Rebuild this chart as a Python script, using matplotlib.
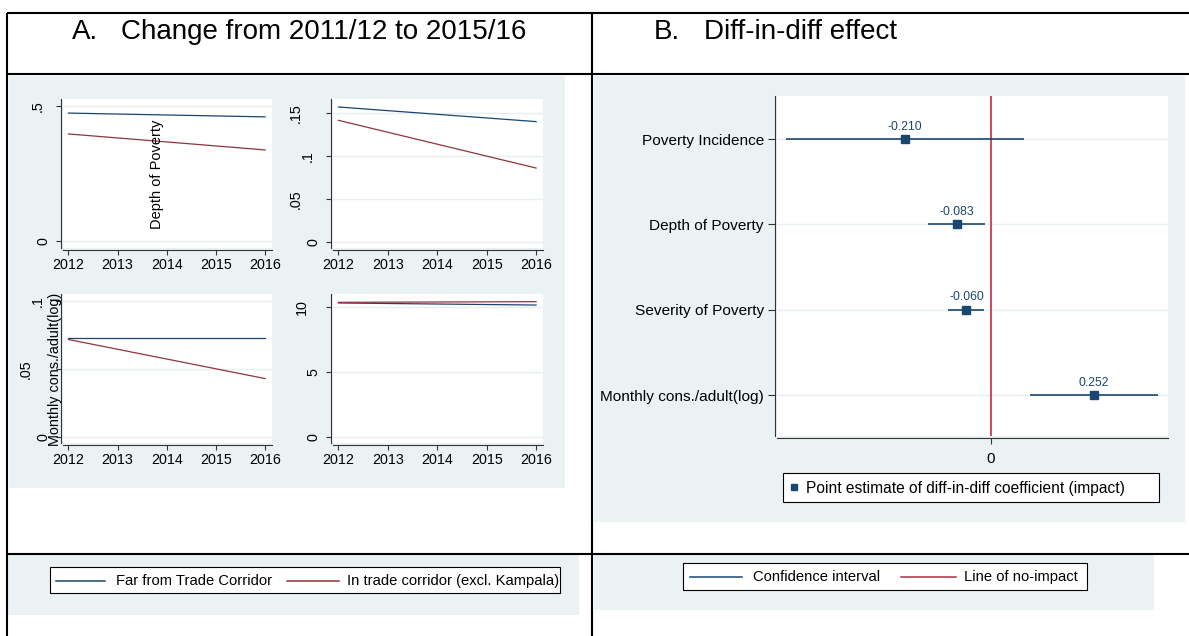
import matplotlib.pyplot as plt
from matplotlib.patches import Rectangle
from matplotlib.transforms import offset_copy

plt.rcParams['font.family'] = ['Liberation Sans', 'DejaVu Sans']

W, H = 1189, 636

# panel A: group means in 2012 and 2016
years = [2012, 2016]
incidence_far = [0.473, 0.459]
incidence_corr = [0.396, 0.337]
depth_far = [0.157, 0.140]
depth_corr = [0.1415, 0.086]
severity_far = [0.073, 0.073]
severity_corr = [0.0716, 0.0429]
cons_far = [10.31, 10.15]
cons_corr = [10.36, 10.41]

# panel B: diff-in-diff coefficients with confidence intervals
outcomes = ["Poverty Incidence", "Depth of Poverty", "Severity of Poverty",
            "Monthly cons./adult(log)"]
coef = [-0.210, -0.083, -0.060, 0.252]
ci_low = [-0.501, -0.154, -0.106, 0.095]
ci_high = [0.081, -0.015, -0.016, 0.410]

navy = '#1A476F'
maroon = '#90353B'
red = '#C83A54'
bg = '#EAF2F3'
grid = '#E6EEF0'

fig = plt.figure(figsize=(W / 100, H / 100), dpi=100)

# pixel-based canvas for the table frame, backgrounds and legends
base = fig.add_axes([0, 0, 1, 1])
base.set_xlim(0, W)
base.set_ylim(H, 0)
base.axis('off')


def rect(x0, y0, x1, y1):
    return [x0 / W, 1 - y1 / H, (x1 - x0) / W, (y1 - y0) / H]


def box(x0, y0, x1, y1, **kw):
    base.add_patch(Rectangle((x0, y0), x1 - x0, y1 - y0, **kw))


# shaded graph regions
box(9, 76, 565, 488, fc=bg, ec='none')
box(594, 76, 1185, 522, fc=bg, ec='none')
box(8, 555, 579, 615, fc=bg, ec='none')
box(594, 555, 1154, 610, fc=bg, ec='none')

# table rules
for y in [13, 74, 554]:
    base.plot([7, W], [y, y], color='black', lw=1.5, solid_capstyle='butt')
for x in [7, 592]:
    base.plot([x, x], [13, H], color='black', lw=1.5, solid_capstyle='butt')

# column headings
base.text(72, 39, "A.", fontsize=20, va='baseline')
base.text(121, 39, "Change from 2011/12 to 2015/16", fontsize=20, va='baseline')
base.text(654, 39, "B.", fontsize=20, va='baseline')
base.text(704, 39, "Diff-in-diff effect", fontsize=20, va='baseline')

TICK_PT = 10.3


def label_width(s):
    # rough Arial advance widths, in pixels
    em = TICK_PT * 100 / 72
    return sum(0.278 if ch == '.' else 0.556 for ch in s) * em


def trend(px, far, corr, ylim, ticks, labels):
    ax = fig.add_axes(rect(*px))
    for t in ticks:
        ax.axhline(t, color=grid, lw=1, zorder=0)
    ax.plot(years, far, color=navy, lw=0.9)
    ax.plot(years, corr, color=maroon, lw=0.9)
    ax.set_xlim(2011.89, 2016.14)
    ax.set_ylim(*ylim)
    ax.set_xticks(range(2012, 2017))
    ax.set_yticks(ticks)
    for s in ['top', 'right']:
        ax.spines[s].set_visible(False)
    for s in ['left', 'bottom']:
        ax.spines[s].set_position(('outward', 1.5))
        ax.spines[s].set_color('#333333')
        ax.spines[s].set_linewidth(0.8)
    ax.tick_params(labelsize=TICK_PT, length=3.5, width=0.8, pad=2,
                   color='#333333', labelcolor='black')
    ax.tick_params(axis='y', labelleft=False)
    # vertical tick labels, pushed out further the longer they are
    for t, lab in zip(ticks, labels):
        off = 8 + 1.45 * label_width(lab)
        tr = offset_copy(ax.get_yaxis_transform(), fig=fig, x=-off, y=0, units='dots')
        ax.text(0, t, lab, transform=tr, rotation=90, fontsize=TICK_PT,
                ha='center', va='center', clip_on=False)
    ax.set_facecolor('white')
    return ax


trend((63, 99, 272, 248), incidence_far, incidence_corr,
      (-0.025, 0.525), [0, 0.5], ['0', '.5'])
trend((333, 99, 543, 248), depth_far, depth_corr,
      (-0.007, 0.1663), [0, 0.05, 0.1, 0.15], ['0', '.05', '.1', '.15'])
trend((63, 294, 272, 443), severity_far, severity_corr,
      (-0.0044, 0.105), [0, 0.05, 0.1], ['0', '.05', '.1'])
trend((333, 294, 543, 443), cons_far, cons_corr,
      (-0.46, 11.0), [0, 5, 10], ['0', '5', '10'])

# stray axis titles that sit on top of the small graphs
fig.text(157 / W, 1 - 174 / H, "Depth of Poverty", rotation=90,
         fontsize=10.5, ha='center', va='center')
fig.text(55 / W, 1 - 369 / H, "Monthly cons./adult(log)", rotation=90,
         fontsize=10.4, ha='center', va='center')

# coefficient plot
axb = fig.add_axes(rect(777, 96, 1168, 436))
pos = list(range(1, len(outcomes) + 1))
for p in pos:
    axb.axhline(p, color=grid, lw=1, zorder=0)
axb.axvline(0, color=red, lw=1.3, zorder=1)
axb.hlines(pos, ci_low, ci_high, color=navy, lw=1.2, zorder=2)
axb.plot(coef, pos, 's', color=navy, ms=5.5, zorder=3)
for c, p in zip(coef, pos):
    axb.annotate(f"{c:.3f}", (c, p), xytext=(0, 4.5), textcoords='offset points',
                 ha='center', va='bottom', fontsize=8.8, color=navy)
axb.set_xlim(-0.5236, 0.4335)
axb.set_ylim(4.48, 0.496)
axb.set_yticks(pos)
axb.set_yticklabels(outcomes)
axb.set_xticks([0])
for s in ['top', 'right']:
    axb.spines[s].set_visible(False)
for s in ['left', 'bottom']:
    axb.spines[s].set_position(('outward', 1.5))
    axb.spines[s].set_color('#333333')
    axb.spines[s].set_linewidth(0.8)
axb.tick_params(axis='y', labelsize=11.1, length=5, width=0.8, pad=3, color='#333333')
axb.tick_params(axis='x', labelsize=11, length=4, width=0.8, pad=6, color='#333333')
axb.set_facecolor('white')

# point legend
box(783, 473, 1159, 502, fc='white', ec='black', lw=0.8)
base.plot(794, 487, 's', color=navy, ms=5)
base.text(806, 488, "Point estimate of diff-in-diff coefficient (impact)",
          fontsize=11.2, va='center')

# legend for panel A
box(50, 567, 560, 593, fc='white', ec='black', lw=0.8)
base.plot([56, 105], [581, 581], color=navy, lw=1.1)
base.text(116, 581, "Far from Trade Corridor", fontsize=10.6, va='center')
base.plot([287, 339], [581, 581], color=maroon, lw=1.1)
base.text(347, 581, "In trade corridor (excl. Kampala)", fontsize=10.6, va='center')

# legend for panel B
box(683, 563, 1087, 590, fc='white', ec='black', lw=0.8)
base.plot([690, 742], [577, 577], color=navy, lw=1.1)
base.text(753, 577, "Confidence interval", fontsize=10.6, va='center')
base.plot([901, 956], [577, 577], color='#A8323F', lw=1.1)
base.text(964, 577, "Line of no-impact", fontsize=10.6, va='center')

fig.savefig('out.png', dpi=100)
